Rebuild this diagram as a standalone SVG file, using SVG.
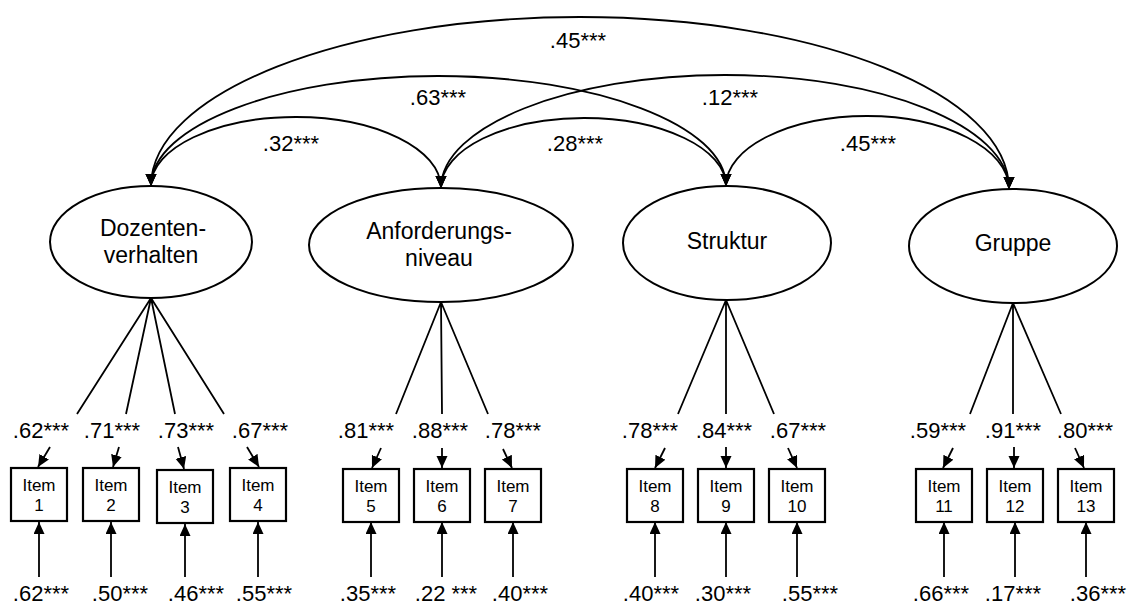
<svg xmlns="http://www.w3.org/2000/svg" width="1129" height="606" viewBox="0 0 1129 606">
<style>
text{font-family:"Liberation Sans",Arial,Helvetica,sans-serif;fill:#000;text-anchor:middle}
.lat{font-size:23px}
.lbl{font-size:22px}
.itm{font-size:17px}
.ell{fill:#fff;stroke:#000;stroke-width:2}
.box{fill:#fff;stroke:#000;stroke-width:2.2}
.ln{fill:none;stroke:#000;stroke-width:1.8}
.arc{fill:none;stroke:#000;stroke-width:1.8;marker-start:url(#ah);marker-end:url(#ah)}
.arr{fill:none;stroke:#000;stroke-width:1.8;marker-end:url(#ah)}
</style>
<defs>
<marker id="ah" markerUnits="userSpaceOnUse" markerWidth="13" markerHeight="12" refX="12" refY="5.5" orient="auto-start-reverse">
<path d="M0,0 L12,5.5 L0,11 z" fill="#000"/>
</marker>
</defs>
<rect width="1129" height="606" fill="#fff"/>
<g id="connectors">
<path class="arc" d="M151,186 C151,93 344,17 580,17 C818,17 1009,94 1009,189"/>
<path class="arc" d="M151,186 C151,125.5 280,76 438,76 C596,76 726,125.5 726,186"/>
<path class="arc" d="M151,186 C151,148 216,117 296,117 C376,117 441,149 441,188"/>
<path class="arc" d="M441,188 C441,126 569,75 725,75 C881,75 1009,126 1009,189"/>
<path class="arc" d="M441,188 C441,149.5 505,118 584,118 C662,118 726,148.6 726,186"/>
<path class="arc" d="M726,186 C726,147.5 789.5,116 867,116 C945,116 1009,149 1009,189"/>
<path class="ln" d="M151,298 L77,414 M151,298 L126,414 M151,298 L175,414 M151,298 L224,414"/>
<path class="ln" d="M441,302 L396,414 M441,302 L442,414 M441,302 L488,414"/>
<path class="ln" d="M726,300 L678,414 M726,300 L726,414 M726,300 L774,414"/>
<path class="ln" d="M1013,303 L970,414 M1013,303 L1013,414 M1013,303 L1061,414"/>
<line class="arr" x1="50" y1="447" x2="38" y2="467"/>
<line class="arr" x1="119" y1="447" x2="113" y2="467"/>
<line class="arr" x1="178" y1="447" x2="184" y2="469"/>
<line class="arr" x1="247" y1="447" x2="259" y2="467"/>
<line class="arr" x1="381" y1="448" x2="372" y2="468"/>
<line class="arr" x1="442" y1="448" x2="442" y2="468"/>
<line class="arr" x1="503" y1="449" x2="512" y2="468"/>
<line class="arr" x1="665" y1="448" x2="655" y2="468"/>
<line class="arr" x1="726" y1="447" x2="726" y2="468"/>
<line class="arr" x1="788" y1="448" x2="797" y2="468"/>
<line class="arr" x1="953" y1="448" x2="943" y2="468"/>
<line class="arr" x1="1014" y1="447" x2="1014" y2="468"/>
<line class="arr" x1="1075" y1="448" x2="1084" y2="468"/>
<line class="arr" x1="39" y1="577" x2="39" y2="522"/>
<line class="arr" x1="111" y1="577" x2="111" y2="522"/>
<line class="arr" x1="185" y1="577" x2="185" y2="524"/>
<line class="arr" x1="258" y1="577" x2="258" y2="522"/>
<line class="arr" x1="371" y1="577" x2="371" y2="522"/>
<line class="arr" x1="442" y1="577" x2="442" y2="522"/>
<line class="arr" x1="513" y1="577" x2="513" y2="522"/>
<line class="arr" x1="655" y1="577" x2="655" y2="522"/>
<line class="arr" x1="726" y1="577" x2="726" y2="522"/>
<line class="arr" x1="797" y1="577" x2="797" y2="522"/>
<line class="arr" x1="944" y1="577" x2="944" y2="522"/>
<line class="arr" x1="1015" y1="577" x2="1015" y2="522"/>
<line class="arr" x1="1086" y1="577" x2="1086" y2="522"/>
<text class="lbl" x="578" y="48">.45***</text>
<text class="lbl" x="438" y="105">.63***</text>
<text class="lbl" x="730" y="105">.12***</text>
<text class="lbl" x="291" y="151">.32***</text>
<text class="lbl" x="575" y="151">.28***</text>
<text class="lbl" x="868" y="151">.45***</text>
<text class="lbl" x="41" y="438">.62***</text>
<text class="lbl" x="112" y="438">.71***</text>
<text class="lbl" x="186" y="438">.73***</text>
<text class="lbl" x="260" y="438">.67***</text>
<text class="lbl" x="366" y="438">.81***</text>
<text class="lbl" x="440" y="438">.88***</text>
<text class="lbl" x="513" y="438">.78***</text>
<text class="lbl" x="650" y="438">.78***</text>
<text class="lbl" x="724" y="438">.84***</text>
<text class="lbl" x="798" y="438">.67***</text>
<text class="lbl" x="938" y="438">.59***</text>
<text class="lbl" x="1013" y="438">.91***</text>
<text class="lbl" x="1085" y="438">.80***</text>
<text class="lbl" x="41" y="601">.62***</text>
<text class="lbl" x="120" y="601">.50***</text>
<text class="lbl" x="196" y="601">.46***</text>
<text class="lbl" x="264" y="601">.55***</text>
<text class="lbl" x="368" y="601">.35***</text>
<text class="lbl" x="446" y="601">.22 ***</text>
<text class="lbl" x="520" y="601">.40***</text>
<text class="lbl" x="651" y="601">.40***</text>
<text class="lbl" x="723" y="601">.30***</text>
<text class="lbl" x="810" y="601">.55***</text>
<text class="lbl" x="941" y="601">.66***</text>
<text class="lbl" x="1013" y="601">.17***</text>
<text class="lbl" x="1098" y="601">.36***</text>
</g>
<g id="dozentenverhalten"><ellipse class="ell" cx="151" cy="242" rx="101" ry="56"/><text class="lat" x="153" y="236">Dozenten-</text><text class="lat" x="151" y="263">verhalten</text></g>
<g id="anforderungsniveau"><ellipse class="ell" cx="441" cy="245" rx="132" ry="57"/><text class="lat" x="439" y="239">Anforderungs-</text><text class="lat" x="439" y="266">niveau</text></g>
<g id="struktur"><ellipse class="ell" cx="727" cy="243" rx="104" ry="57"/><text class="lat" x="727" y="249">Struktur</text></g>
<g id="gruppe"><ellipse class="ell" cx="1013" cy="246" rx="104" ry="57"/><text class="lat" x="1013" y="251">Gruppe</text></g>
<g id="item1"><rect class="box" x="11" y="468" width="56" height="53"/><text class="itm" x="39" y="491">Item</text><text class="itm" x="39" y="511">1</text></g>
<g id="item2"><rect class="box" x="83" y="468" width="56" height="53"/><text class="itm" x="111" y="491">Item</text><text class="itm" x="111" y="511">2</text></g>
<g id="item3"><rect class="box" x="157" y="470" width="56" height="53"/><text class="itm" x="185" y="493">Item</text><text class="itm" x="185" y="513">3</text></g>
<g id="item4"><rect class="box" x="230" y="468" width="56" height="53"/><text class="itm" x="258" y="491">Item</text><text class="itm" x="258" y="511">4</text></g>
<g id="item5"><rect class="box" x="343" y="469" width="56" height="53"/><text class="itm" x="371" y="492">Item</text><text class="itm" x="371" y="512">5</text></g>
<g id="item6"><rect class="box" x="414" y="469" width="56" height="53"/><text class="itm" x="442" y="492">Item</text><text class="itm" x="442" y="512">6</text></g>
<g id="item7"><rect class="box" x="485" y="469" width="56" height="53"/><text class="itm" x="513" y="492">Item</text><text class="itm" x="513" y="512">7</text></g>
<g id="item8"><rect class="box" x="627" y="469" width="56" height="53"/><text class="itm" x="655" y="492">Item</text><text class="itm" x="655" y="512">8</text></g>
<g id="item9"><rect class="box" x="698" y="469" width="56" height="53"/><text class="itm" x="726" y="492">Item</text><text class="itm" x="726" y="512">9</text></g>
<g id="item10"><rect class="box" x="769" y="469" width="56" height="53"/><text class="itm" x="797" y="492">Item</text><text class="itm" x="797" y="512">10</text></g>
<g id="item11"><rect class="box" x="916" y="469" width="56" height="53"/><text class="itm" x="944" y="492">Item</text><text class="itm" x="944" y="512">11</text></g>
<g id="item12"><rect class="box" x="987" y="469" width="56" height="53"/><text class="itm" x="1015" y="492">Item</text><text class="itm" x="1015" y="512">12</text></g>
<g id="item13"><rect class="box" x="1058" y="469" width="56" height="53"/><text class="itm" x="1086" y="492">Item</text><text class="itm" x="1086" y="512">13</text></g>
</svg>
